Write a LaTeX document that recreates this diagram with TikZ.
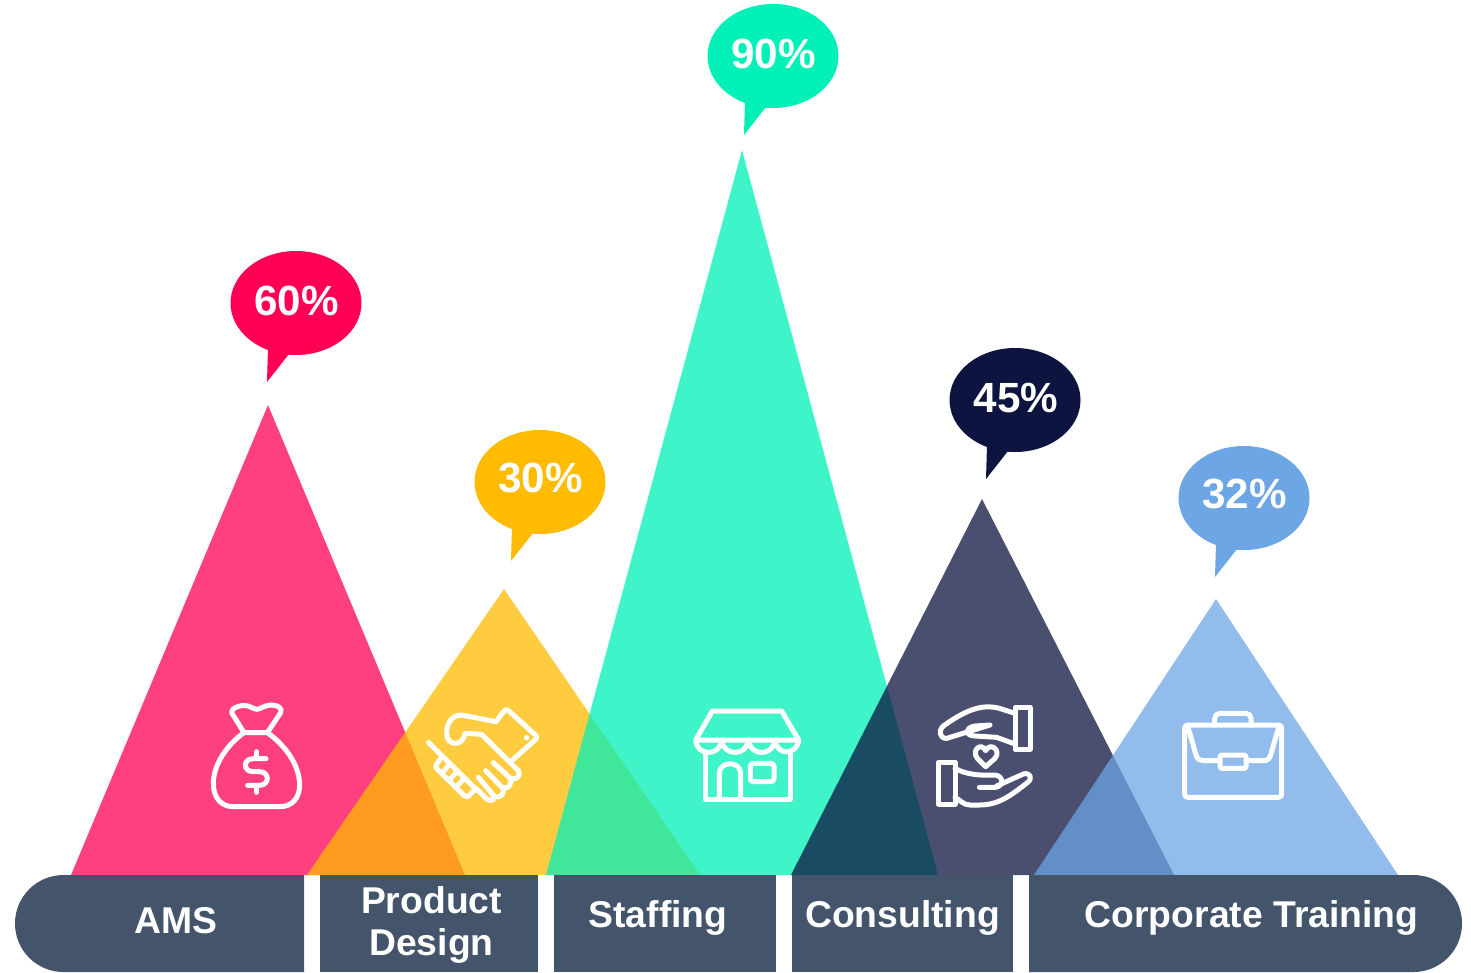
\documentclass[tikz,border=0pt]{standalone}
\usepackage{fontspec}
\setmainfont{Liberation Sans}
\definecolor{cpink}{HTML}{FF0055}
\definecolor{cyel}{HTML}{FFBB00}
\definecolor{cgrn}{HTML}{00F0B8}
\definecolor{cnavy}{HTML}{0D1440}
\definecolor{cblue}{HTML}{6CA6E4}
\definecolor{cbar}{HTML}{44546A}
\tikzset{
  peak/.style={opacity=.75,draw=none},
  seg/.style={fill=cbar,draw=none},
  bartext/.style={text=white,font=\fontsize{37.3}{42}\selectfont\bfseries,align=center,inner sep=0pt,anchor=base},
  pct/.style={text=white,font=\fontsize{42.2}{42}\selectfont\bfseries,inner sep=0pt,anchor=base},
  icon/.style={draw=white,line width=5pt,line cap=round,line join=round},
}
\newcommand{\bubble}[7]{% x,y,colour,name,text,text dx,text dy
  \fill[#3] (#1-28,#2+45) -- (#1-29,#2+79) -- (#1-7,#2+51) -- cycle;
  \fill[#3] (#1,#2) ellipse [x radius=65.5,y radius=52];
  \node[pct] (#4) at (#1+#6,#2+#7) {#5};
}
\begin{document}
\begin{tikzpicture}[x=1pt,y=-1pt]
\useasboundingbox (0,0) rectangle (1471,972);
% peaks
\fill[cpink,peak] (268,405) -- (465,875) -- (71,875) -- cycle;
\fill[cyel,peak] (504,589) -- (700,875) -- (307,875) -- cycle;
\fill[cgrn,peak] (742,150) -- (938,875) -- (546,875) -- cycle;
\fill[cnavy,peak] (982,499) -- (1174,875) -- (791,875) -- cycle;
\fill[cblue,peak] (1216,599) -- (1398,875) -- (1034,875) -- cycle;
% bar
\fill[seg] (304,875) -- (304,972) -- (63.5,972) arc[start angle=90,end angle=270,radius=48.5] -- cycle;
\fill[seg] (320,875) rectangle (538,972);
\fill[seg] (554,875) rectangle (776,972);
\fill[seg] (792,875) rectangle (1013,972);
\fill[seg] (1029,875) -- (1029,972) -- (1413.5,972) arc[start angle=90,end angle=-90,radius=48.5] -- cycle;
% labels
\node[bartext] (ams) at (176,933) {AMS};
\node[bartext] (prod) at (431.5,913) {Product};
\node[bartext] (des) at (431.5,955) {Design};
\node[bartext] (staff) at (658,927) {Staffing};
\node[bartext] (cons) at (902.5,927) {Consulting};
\node[bartext] (corp) at (1251.5,927) {Corporate Training};
% bubbles
\bubble{296}{303}{cpink}{b60}{60\%}{.5}{12}
\bubble{540}{482}{cyel}{b30}{30\%}{.5}{10.5}
\bubble{773}{56}{cgrn}{b90}{90\%}{.5}{12}
\bubble{1015}{400}{cnavy}{b45}{45\%}{1}{12.5}
\bubble{1244}{498}{cblue}{b32}{32\%}{.5}{10.5}
% money bag
\begin{scope}[shift={(190,690)},x=.3333pt,y=-.3333pt,icon]
\draw (162,128) -- (125,68) .. controls (122,55) and (150,44) .. (170,47) .. controls (185,50) and (190,58) .. (200,58) .. controls (212,58) and (220,46) .. (245,45) .. controls (265,46) and (278,55) .. (272,68) -- (232,128) -- cycle;
\draw (162,128) .. controls (110,165) and (70,225) .. (70,280) .. controls (70,325) and (95,350) .. (130,350) -- (270,350) .. controls (305,350) and (329,325) .. (329,285) .. controls (329,225) and (285,165) .. (232,128);
\draw (228,206) -- (190,206) .. controls (158,206) and (158,245) .. (190,245) -- (208,245) .. controls (240,245) and (240,286) .. (208,286) -- (173,286);
\draw (200,185) -- (200,205) (200,287) -- (200,307);
\end{scope}
% handshake
\begin{scope}[shift={(420,700)},x=.3333pt,y=-.3333pt,icon]
\draw[rounded corners=3pt] (228,65) -- (258,25) -- (354,112) -- (272,185);
\fill[white,draw=none] (320,113) circle (8);
\draw (228,65) -- (125,45) .. controls (95,45) and (80,70) .. (80,100) .. controls (80,140) and (130,140) .. (135,100) -- (185,103) -- (296,213);
\draw (296,213) .. controls (305,228) and (285,245) .. (268,232) -- (220,188);
\draw (268,232) .. controls (282,250) and (262,272) .. (246,262) -- (197,212);
\draw (246,262) .. controls (258,280) and (240,298) .. (222,288) -- (175,232);
\draw (222,288) .. controls (225,305) and (205,305) .. (195,292) -- (168,265);
\draw (25,127) -- (168,268);
\draw[rounded corners=3pt] (60,178) -- (44,200) -- (140,294) -- (162,272);
\draw (84,198) -- (67,218) (108,218) -- (90,238) (130,238) -- (112,258);
\end{scope}
% store
\begin{scope}[shift={(680,690)},x=.3333pt,y=-.3333pt,icon]
\draw (97,63) -- (305,63) -- (356,150) -- (47,150) -- cycle;
\draw (47,150) .. controls (50,200) and (120,200) .. (125,150) .. controls (130,200) and (200,200) .. (205,150) .. controls (210,200) and (280,200) .. (285,150) .. controls (290,200) and (353,195) .. (356,150);
\draw (76,185) -- (76,328) -- (330,328) -- (330,185);
\draw (118,328) -- (118,250) .. controls (118,212) and (182,212) .. (182,250) -- (182,328);
\draw[rounded corners=3pt] (211,220) rectangle (282,275);
\end{scope}
% caring hands
\begin{scope}[shift={(930,700)},x=.3333pt,y=-.3333pt,icon]
\draw (255,22) rectangle (300,148);
\draw (255,40) -- (205,24) .. controls (165,15) and (120,20) .. (40,78) .. controls (20,95) and (35,125) .. (60,112) -- (180,75) -- (135,78) .. controls (105,82) and (105,108) .. (135,108) -- (200,112) -- (255,132);
\draw (25,187) rectangle (75,312);
\draw (75,205) .. controls (100,220) and (140,228) .. (195,225) .. controls (222,228) and (222,260) .. (195,262) -- (148,262);
\draw (200,258) -- (280,222) .. controls (300,216) and (310,235) .. (292,248) .. controls (250,280) and (210,315) .. (150,315) -- (120,315) .. controls (100,315) and (90,300) .. (75,292);
\draw (167,200) -- (142,175) .. controls (122,150) and (155,125) .. (167,152) .. controls (180,125) and (215,150) .. (195,175) -- cycle;
\end{scope}
% briefcase
\begin{scope}[shift={(1170,700)},x=.3333pt,y=-.3333pt,icon]
\draw[rounded corners=3pt] (44,75) rectangle (335,292);
\draw[rounded corners=5pt] (134,75) -- (134,40) -- (243,40) -- (243,75);
\draw (55,85) -- (78,165) .. controls (82,178) and (90,182) .. (100,182) -- (148,182);
\draw (230,182) -- (280,182) .. controls (292,182) and (298,178) .. (302,165) -- (325,85);
\draw[rounded corners=2pt] (150,165) rectangle (228,205);
\end{scope}
\end{tikzpicture}
\end{document}
